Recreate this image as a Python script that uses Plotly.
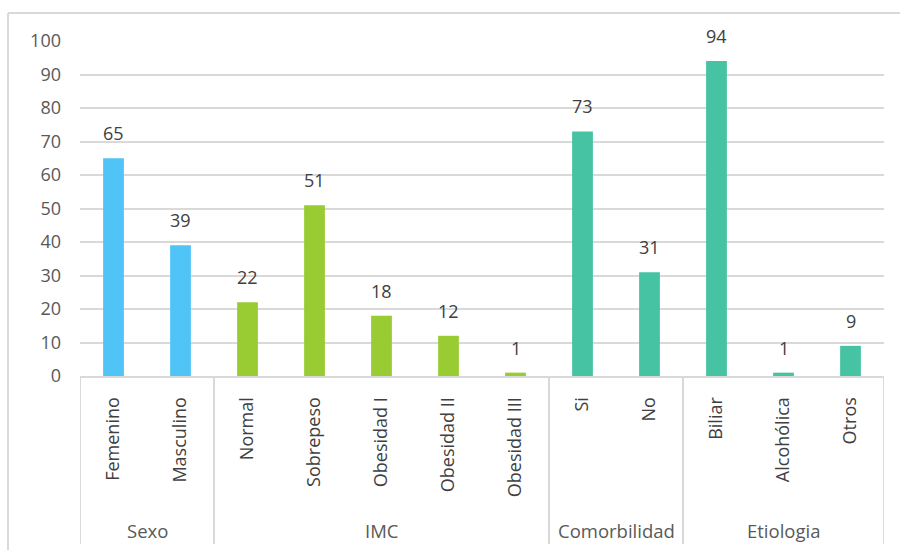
import plotly.graph_objects as go

# ---- data ----
categories = ["Femenino", "Masculino", "Normal", "Sobrepeso", "Obesidad I",
              "Obesidad II", "Obesidad III", "Si", "No", "Biliar", "Alcohólica", "Otros"]
groups = ["Sexo", "Sexo", "IMC", "IMC", "IMC", "IMC", "IMC",
          "Comorbilidad", "Comorbilidad", "Etiologia", "Etiologia", "Etiologia"]
values = [65, 39, 22, 51, 18, 12, 1, 73, 31, 94, 1, 9]
group_order = ["Sexo", "IMC", "Comorbilidad", "Etiologia"]
y_ticks = [0, 10, 20, 30, 40, 50, 60, 70, 80, 90, 100]

group_colors = {"Sexo": "#50C3F7", "IMC": "#99CC33",
                "Comorbilidad": "#45C3A3", "Etiologia": "#45C3A3"}

FONT = "Open Sans"
GRID = "#d9d9d9"

# plot area in pixels
W, H = 900, 550
L, R, T, B = 80, 884, 41, 376

fig = go.Figure()
for g in group_order:
    idx = [i for i, gg in enumerate(groups) if gg == g]
    fig.add_trace(go.Bar(
        x=[categories[i] for i in idx],
        y=[values[i] for i in idx],
        marker=dict(color=group_colors[g], line=dict(width=0)),
        width=0.31,
        showlegend=False,
        hoverinfo="x+y",
    ))

# data labels
for c, v in zip(categories, values):
    fig.add_annotation(x=c, y=v, xref="x", yref="y", text=str(v),
                       showarrow=False, yanchor="bottom", yshift=11,
                       font=dict(family=FONT, size=18, color="#404040"))

def py(p):  # pixel y -> paper y
    return (B - p) / (B - T)

def px(p):  # pixel x -> paper x
    return (p - L) / (R - L)

shapes = []
# group dividers
bounds = [-0.5]
for gi, g in enumerate(group_order):
    idx = [i for i, gg in enumerate(groups) if gg == g]
    bounds.append(max(idx) + 0.5)
    fig.add_annotation(x=sum(idx) / len(idx), y=py(530), xref="x", yref="paper",
                       text=g, showarrow=False, yanchor="middle",
                       font=dict(family=FONT, size=18.5, color="#595959"))
for b in bounds:
    shapes.append(dict(type="line", xref="x", yref="paper", x0=b, x1=b,
                       y0=0, y1=py(544), line=dict(color=GRID, width=2)))
# chart border (top and left visible)
shapes.append(dict(type="line", xref="paper", yref="paper", x0=px(8), x1=px(905),
                   y0=py(13), y1=py(13), line=dict(color=GRID, width=2)))
shapes.append(dict(type="line", xref="paper", yref="paper", x0=px(8), x1=px(8),
                   y0=py(13), y1=py(560), line=dict(color=GRID, width=2)))
fig.update_layout(shapes=shapes)

fig.update_layout(
    width=W, height=H,
    margin=dict(l=L, r=W - R, t=T, b=H - B, pad=0),
    paper_bgcolor="white", plot_bgcolor="white",
    bargap=0.69,
    xaxis=dict(type="category", categoryorder="array", categoryarray=categories,
               range=[-0.5, len(categories) - 0.5],
               tickangle=-90, ticks="", showgrid=False,
               showline=True, linecolor=GRID, linewidth=2,
               tickfont=dict(family=FONT, size=18, color="#404040"),
               ticklabelstandoff=12, fixedrange=True),
    yaxis=dict(range=[0, 100], tickvals=y_ticks, showgrid=True,
               gridcolor=GRID, gridwidth=2, zeroline=False, showline=False,
               ticks="", tickfont=dict(family=FONT, size=18, color="#595959"),
               ticklabelstandoff=18, fixedrange=True),
)

fig.write_html("out.html")
